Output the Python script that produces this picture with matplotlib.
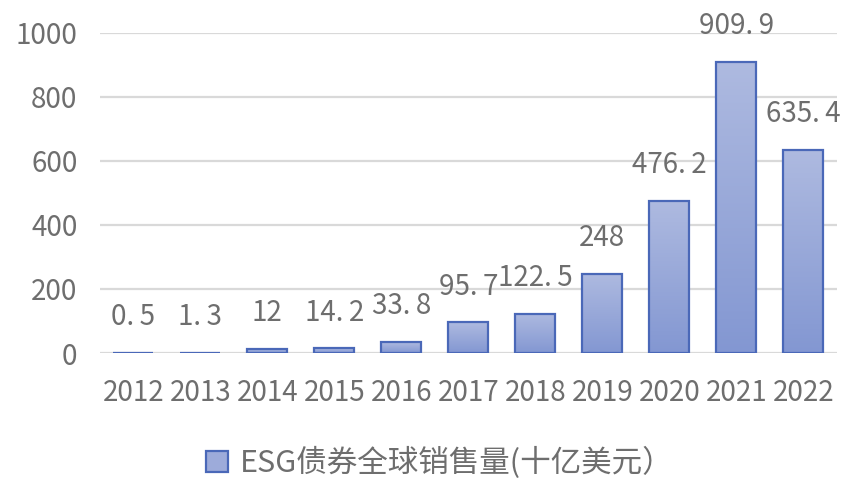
import matplotlib
matplotlib.use("Agg")
import matplotlib.pyplot as plt
import numpy as np
from matplotlib.colors import LinearSegmentedColormap
from matplotlib.patches import Patch

plt.rcParams['font.family'] = ['Noto Sans CJK SC', 'DejaVu Sans']

# 数据
years = ['2012', '2013', '2014', '2015', '2016', '2017', '2018', '2019', '2020', '2021', '2022']
sales = [0.5, 1.3, 12, 14.2, 33.8, 95.7, 122.5, 248, 476.2, 909.9, 635.4]
legend_label = 'ESG债券全球销售量(十亿美元）'

TEXT_C = '#6E6E6E'
EDGE_C = '#4A68B8'
grad = LinearSegmentedColormap.from_list('g', ['#8397D2', '#AEBAE0'])

fig = plt.figure(figsize=(8.68, 5.04), dpi=100)
ax = fig.add_axes([0.115, 0.2996, 0.849, 0.635])

x = np.arange(len(years))
bars = ax.bar(x, sales, width=0.6, color='none', edgecolor=EDGE_C, linewidth=1.6, zorder=3)

# 渐变填充
g = np.linspace(0, 1, 256).reshape(-1, 1)
for b in bars:
    x0, y0 = b.get_x(), b.get_y()
    w, h = b.get_width(), b.get_height()
    im = ax.imshow(g, cmap=grad, origin='lower', aspect='auto',
                   extent=[x0, x0 + w, y0, y0 + max(h, 0.01)], zorder=2)
    im.set_clip_path(b)

# 数据标签（句点后留一点空）
for xi, v in zip(x, sales):
    txt = f"{v:g}".replace('.', '.\u2009')
    ax.annotate(txt, (xi, v), xytext=(0, 20), textcoords='offset points',
                ha='center', va='baseline', fontsize=20, color=TEXT_C,
                annotation_clip=False)

ax.set_xlim(-0.5, len(years) - 0.5)
ax.set_ylim(0, 1000)
ax.set_yticks([0, 200, 400, 600, 800, 1000])
ax.set_xticks(x)
ax.set_xticklabels(years)
ax.tick_params(axis='both', length=0, labelsize=20, labelcolor=TEXT_C)
ax.tick_params(axis='x', pad=18)
ax.tick_params(axis='y', pad=16)
ax.grid(axis='y', color='#D9D9D9', linewidth=1.6, zorder=0)
ax.set_axisbelow(True)
for s in ax.spines.values():
    s.set_visible(False)

handle = Patch(facecolor='#9DABDA', edgecolor=EDGE_C, linewidth=1.6)
fig.legend([handle], [legend_label], loc='center', bbox_to_anchor=(0.507, 0.081),
           frameon=False, fontsize=22, labelcolor=TEXT_C,
           handlelength=0.72, handleheight=0.72, handletextpad=0.4)

fig.savefig('out.png', dpi=100)
